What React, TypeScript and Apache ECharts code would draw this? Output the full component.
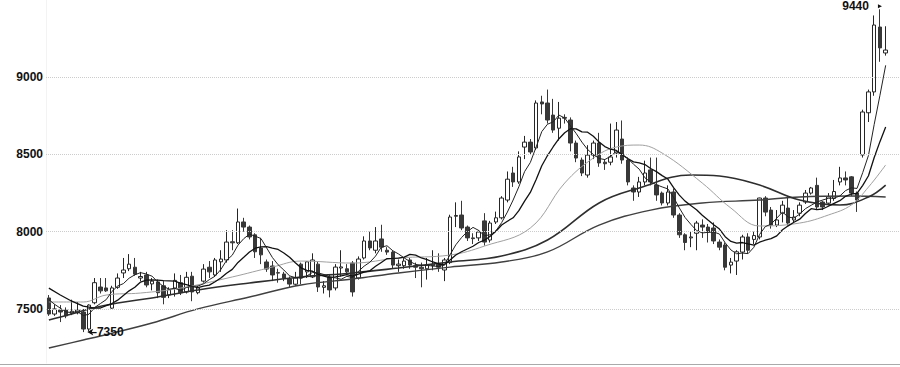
import React, { useEffect, useRef } from "react";
import * as echarts from "echarts";

// Daily candles (open, close, low, high)
const opens = [
  7571, 7467, 7493, 7493, 7470, 7475, 7480, 7370, 7540, 7642,
  7636, 7505, 7640, 7733, 7760, 7770, 7700, 7720, 7662, 7675,
  7650, 7590, 7635, 7670, 7610, 7712, 7605, 7680, 7770, 7720,
  7805, 7817, 7935, 7928, 8063, 8030, 7980, 7894, 7804, 7778,
  7735, 7726, 7694, 7660, 7790, 7740, 7707, 7790, 7640, 7707,
  7636, 7765, 7760, 7797, 7700, 7830, 7940, 7880, 7953, 7880,
  7868, 7780, 7780, 7817, 7780, 7770, 7760, 7780, 7790, 7752,
  7800, 8100, 8108, 8030, 7960, 7960, 8070, 7946, 8063, 8090,
  8205, 8380, 8322, 8548, 8580, 8542, 8840, 8833, 8755, 8670,
  8740, 8723, 8574, 8464, 8367, 8496, 8574, 8450, 8450, 8510,
  8600, 8464, 8283, 8257, 8322, 8400, 8302, 8250, 8186, 8257,
  8108, 7980, 7960, 7990, 8043, 8030, 8024, 7933, 7914, 7784,
  7810, 7868, 7966, 7950, 7966, 8218, 8140, 8043, 8120, 8153,
  8076, 8120, 8192, 8250, 8300, 8192, 8185, 8215, 8322, 8348,
  8355, 8250, 8497, 8770, 8905, 9325, 9157,
];
const closes = [
  7467, 7500, 7480, 7455, 7485, 7493, 7370, 7525, 7670, 7617,
  7617, 7636, 7700, 7752, 7790, 7725, 7710, 7655, 7680, 7605,
  7575, 7625, 7685, 7605, 7705, 7610, 7636, 7758, 7740, 7817,
  7823, 7933, 7928, 8063, 8030, 7966, 7870, 7850, 7758, 7720,
  7732, 7700, 7661, 7700, 7700, 7805, 7817, 7642, 7650, 7623,
  7771, 7772, 7740, 7610, 7823, 7940, 7895, 7940, 7900, 7868,
  7784, 7790, 7810, 7784, 7770, 7760, 7785, 7790, 7770, 7817,
  8095, 8105, 8024, 7960, 7955, 7998, 7933, 8056, 8090, 8218,
  8340, 8322, 8484, 8580, 8516, 8833, 8827, 8723, 8658, 8735,
  8735, 8574, 8477, 8380, 8496, 8574, 8445, 8440, 8484, 8658,
  8464, 8322, 8257, 8322, 8380, 8322, 8238, 8186, 8257, 8108,
  7980, 7930, 7966, 8056, 8030, 7998, 7940, 7900, 7770, 7803,
  7870, 7966, 7880, 7975, 8218, 8127, 8043, 8076, 8172, 8056,
  8095, 8172, 8250, 8283, 8160, 8160, 8225, 8260, 8348, 8335,
  8250, 8205, 8775, 8905, 9338, 9190, 9176,
];
const lows = [
  7455, 7455, 7415, 7440, 7460, 7465, 7350, 7355, 7530, 7600,
  7610, 7500, 7630, 7700, 7745, 7715, 7680, 7640, 7620, 7570,
  7530, 7570, 7580, 7590, 7600, 7550, 7595, 7670, 7700, 7710,
  7740, 7800, 7880, 7920, 8000, 7950, 7830, 7790, 7740, 7680,
  7670, 7680, 7640, 7650, 7660, 7700, 7700, 7610, 7600, 7575,
  7620, 7710, 7720, 7580, 7690, 7820, 7880, 7860, 7870, 7850,
  7760, 7740, 7760, 7760, 7700, 7640, 7690, 7750, 7740, 7680,
  7790, 8030, 8010, 7940, 7920, 7940, 7910, 7930, 8050, 8080,
  8190, 8290, 8310, 8470, 8500, 8530, 8760, 8700, 8640, 8590,
  8700, 8520, 8450, 8360, 8350, 8470, 8420, 8400, 8430, 8480,
  8440, 8300, 8200, 8225, 8300, 8300, 8200, 8170, 8170, 8090,
  7960, 7880, 7900, 7880, 7960, 7930, 7920, 7880, 7750, 7730,
  7720, 7820, 7860, 7920, 7950, 8100, 8020, 8030, 8060, 8040,
  8060, 8100, 8180, 8240, 8140, 8140, 8170, 8200, 8300, 8300,
  8230, 8128, 8480, 8710, 8880, 9100, 9140,
];
const highs = [
  7590, 7530, 7525, 7510, 7560, 7545, 7500, 7530, 7700, 7700,
  7700, 7650, 7730, 7830, 7855, 7830, 7740, 7740, 7700, 7690,
  7680, 7640, 7730, 7720, 7740, 7740, 7650, 7790, 7810, 7830,
  7880, 8010, 8010, 8150, 8090, 8040, 7990, 7960, 7820, 7810,
  7760, 7740, 7710, 7740, 7800, 7810, 7860, 7810, 7680, 7720,
  7790, 7880, 7790, 7810, 7840, 7970, 8000, 8030, 8045, 7900,
  7880, 7820, 7830, 7830, 7800, 7800, 7830, 7880, 7860, 7830,
  8110, 8190, 8200, 8040, 7990, 8010, 8120, 8070, 8130, 8230,
  8390, 8420, 8520, 8620, 8600, 8850, 8880, 8920, 8860, 8840,
  8760, 8740, 8590, 8480, 8560, 8590, 8640, 8470, 8700, 8710,
  8720, 8480, 8300, 8355, 8460, 8480, 8480, 8260, 8300, 8280,
  8120, 7990, 8000, 8070, 8080, 8050, 8060, 7950, 7930, 7830,
  7880, 7980, 7990, 8000, 8220, 8230, 8160, 8140, 8200, 8230,
  8140, 8190, 8270, 8290, 8350, 8200, 8250, 8335, 8420, 8390,
  8360, 8260, 8790, 8920, 9400, 9440, 9330,
];

// Moving-average values read off the picture where the window has no history
const ma5Head = [[0, 7560], [1, 7530], [2, 7505], [3, 7480]];
const ma10Head = [[0, 7635], [2, 7590], [4, 7550], [6, 7518], [8, 7505]];
// Longer averages as [candle index, value]
const ma20Points = [
  [0, 7545], [6, 7545], [10, 7590], [16, 7603], [23, 7635], [32, 7707],
  [39, 7771], [44, 7810], [53, 7797], [61, 7830], [70, 7849], [76, 7907],
  [84, 8024], [90, 8315], [95, 8477], [99, 8548], [103, 8561], [107, 8509],
  [114, 8315], [119, 8153], [124, 8037], [131, 8056], [136, 8108],
  [140, 8173], [143, 8289], [146, 8432],
];
const ma40Points = [
  [0, 7428], [4, 7467], [7, 7500], [12, 7538], [18, 7571], [26, 7623],
  [35, 7668], [44, 7707], [53, 7733], [61, 7765], [70, 7804], [79, 7843],
  [87, 7946], [96, 8186], [103, 8283], [112, 8367], [117, 8361],
  [124, 8302], [131, 8205], [138, 8173], [143, 8225], [146, 8302],
];
const ma60Points = [
  [0, 7247], [6, 7299], [9, 7325], [18, 7409], [26, 7500], [35, 7577],
  [44, 7655], [53, 7694], [61, 7733], [70, 7771], [79, 7804], [87, 7869],
  [96, 8043], [105, 8140], [114, 8186], [124, 8205], [131, 8225],
  [140, 8231], [146, 8225],
];

const yTicks = [7500, 8000, 8500, 9000];
const highMark = { index: 145, value: 9440, text: "9440" };
const lowMark = { index: 6, value: 7350, text: "7350" };
const trailingSlots = 2;

const FONT = "'Liberation Sans', Arial, sans-serif";

function movingAverage(n: number, head: number[][]) {
  const pts: number[][] = head.map((p) => [p[0], p[1]]);
  for (let i = n - 1; i < closes.length; i++) {
    let s = 0;
    for (let k = i - n + 1; k <= i; k++) s += closes[k];
    pts.push([i, Math.round(s / n)]);
  }
  return pts;
}

export default function App() {
  const ref = useRef<HTMLDivElement>(null);

  useEffect(() => {
    if (!ref.current) return;
    const chart = echarts.init(ref.current, null, { renderer: "svg" });

    const categories = opens
      .map((_, i) => `D${i + 1}`)
      .concat(Array(trailingSlots).fill(""));
    const candles = opens.map((o, i) => [o, closes[i], lows[i], highs[i]]);

    const labelStyle = {
      color: "#111",
      fontWeight: "bold",
      fontSize: 12,
      fontFamily: FONT,
    };

    const line = (name: string, data: number[][], color: string, width: number, smooth: boolean | number) => ({
      name,
      type: "line",
      data,
      smooth,
      symbol: "none",
      silent: true,
      lineStyle: { color, width },
      z: 3,
    });

    chart.setOption({
      animation: false,
      backgroundColor: "#ffffff",
      grid: { left: 46, right: 0, top: 0, bottom: 4 },
      xAxis: {
        type: "category",
        data: categories,
        boundaryGap: true,
        axisLine: { show: false },
        axisTick: { show: false },
        axisLabel: { show: false },
        splitLine: { show: false },
      },
      yAxis: {
        type: "value",
        min: 7150,
        max: 9500,
        splitLine: { show: false },
        axisTick: { show: false },
        axisLine: { show: true, lineStyle: { color: "#f3f3f3", width: 1 } },
        axisLabel: {
          margin: 3,
          ...labelStyle,
          formatter: (v: number) => (yTicks.includes(v) ? String(v) : ""),
        },
      },
      graphic: [
        {
          type: "line",
          shape: { x1: 0, y1: 364.5, x2: 900, y2: 364.5 },
          style: { stroke: "#aaaaaa", lineWidth: 1 },
          silent: true,
        },
      ],
      series: [
        {
          name: "K",
          type: "candlestick",
          data: candles,
          barWidth: 4,
          itemStyle: {
            color: "#ffffff",
            color0: "#383838",
            borderColor: "#262626",
            borderColor0: "#383838",
            borderWidth: 1,
          },
          markLine: {
            silent: true,
            symbol: ["none", "none"],
            label: { show: false },
            lineStyle: { type: "dotted", color: "#cccccc", width: 1 },
            data: yTicks.map((v) => ({ yAxis: v })),
          },
          markPoint: {
            silent: true,
            data: [
              {
                coord: [highMark.index, highMark.value],
                symbol: "triangle",
                symbolSize: [4, 4],
                symbolRotate: -90,
                symbolOffset: [0, -3],
                itemStyle: { color: "#111" },
                label: {
                  show: true,
                  position: "left",
                  distance: 9,
                  formatter: highMark.text,
                  ...labelStyle,
                },
              },
              {
                coord: [lowMark.index, lowMark.value],
                symbol: "arrow",
                symbolSize: [5, 6],
                symbolRotate: 90,
                symbolOffset: [4, 0],
                itemStyle: { color: "#111" },
                label: {
                  show: true,
                  position: "right",
                  distance: -3,
                  formatter: "\u2013" + lowMark.text,
                  ...labelStyle,
                },
              },
            ],
          },
          z: 2,
        },
        line("MA60", ma60Points, "#404040", 1.4, 0.4),
        line("MA40", ma40Points, "#2e2e2e", 1.6, 0.4),
        line("MA20", ma20Points, "#a0a0a0", 1, 0.4),
        line("MA10", movingAverage(10, ma10Head), "#111111", 1.3, false),
        line("MA5", movingAverage(5, ma5Head), "#222222", 1, false),
      ],
    });

    return () => chart.dispose();
  }, []);

  return (
    <div
      ref={ref}
      style={{ position: "fixed", left: 0, top: 0, width: 900, height: 367 }}
    />
  );
}
